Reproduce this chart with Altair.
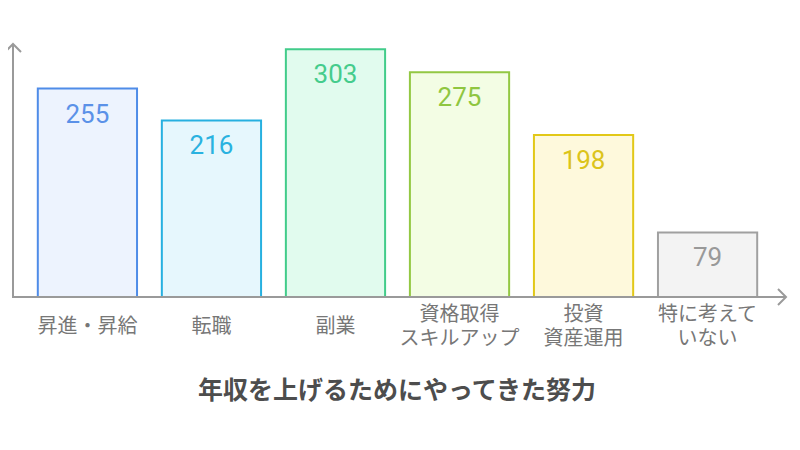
import altair as alt
import pandas as pd

categories = ["昇進・昇給", "転職", "副業", "資格取得\nスキルアップ", "投資\n資産運用", "特に考えて\nいない"]
values = [255, 216, 303, 275, 198, 79]
stroke_colors = ["#4f8ce8", "#27b0e0", "#42cc8a", "#93c843", "#e2c818", "#a0a0a0"]
fill_colors = ["#edf3fe", "#e6f7fd", "#e1fbee", "#f3fde4", "#fef9dc", "#f3f3f3"]
text_colors = ["#5b91e8", "#2ab2e0", "#45cc8c", "#8fc640", "#dcc41a", "#999999"]
title_text = "年収を上げるためにやってきた努力"

df = pd.DataFrame({"cat": categories, "value": values})
one = pd.DataFrame({"k": [0]})

W, H = 769, 260
x_enc = alt.X("cat:N", sort=categories, axis=None,
              scale=alt.Scale(domain=categories, paddingInner=0.2, paddingOuter=0.2))
y_enc = alt.Y("value:Q", axis=None, scale=alt.Scale(domain=[0, 318], nice=False, zero=True))

bars = alt.Chart(df).mark_bar(strokeWidth=2, cornerRadius=0).encode(
    x=x_enc,
    y=y_enc,
    fill=alt.Fill("cat:N", scale=alt.Scale(domain=categories, range=fill_colors), legend=None),
    stroke=alt.Stroke("cat:N", scale=alt.Scale(domain=categories, range=stroke_colors), legend=None),
)

nums = alt.Chart(df).mark_text(font="Roboto", fontSize=26, baseline="alphabetic", dy=34).encode(
    x=x_enc,
    y=y_enc,
    text=alt.Text("value:Q"),
    color=alt.Color("cat:N", scale=alt.Scale(domain=categories, range=text_colors), legend=None),
)

label_style = dict(font="Noto Sans CJK JP", fontSize=20, lineBreak="\n",
                   lineHeight=24, baseline="middle", color="#777777")
labels_one = alt.Chart(df).transform_filter(
    "indexof(datum.cat, '\\n') < 0"
).mark_text(**label_style).encode(x=x_enc, y=alt.value(290), text="cat:N")
labels_two = alt.Chart(df).transform_filter(
    "indexof(datum.cat, '\\n') >= 0"
).mark_text(**label_style).encode(x=x_enc, y=alt.value(278), text="cat:N")

axis_color = "#9a9a9a"
y_axis = alt.Chart(one).mark_rule(color=axis_color, strokeWidth=2).encode(
    x=alt.value(0), y=alt.value(7), y2=alt.value(H + 1))
x_axis = alt.Chart(one).mark_rule(color=axis_color, strokeWidth=2).encode(
    x=alt.value(-1), x2=alt.value(773), y=alt.value(H))
y_arrow = alt.Chart(one).mark_point(shape="M-1,0.5L0,-0.5L1,0.5", size=256, filled=False,
                                    color=axis_color, strokeWidth=2, opacity=1).encode(
    x=alt.value(0), y=alt.value(11))
x_arrow = alt.Chart(one).mark_point(shape="M-0.5,-1L0.5,0L-0.5,1", size=256, filled=False,
                                    color=axis_color, strokeWidth=2, opacity=1).encode(
    x=alt.value(769), y=alt.value(H))

title = alt.Chart(one).mark_text(font="Noto Sans CJK JP", fontSize=25, fontWeight="bold",
                                 color="#4d4d4d", baseline="middle", align="center").encode(
    x=alt.value(384), y=alt.value(354), text=alt.value(title_text))

chart = alt.layer(bars, nums, labels_one, labels_two, y_axis, x_axis, y_arrow, x_arrow, title).properties(
    width=W, height=H,
    autosize=alt.AutoSizeParams(type="none"),
    padding={"left": 5, "top": 29, "right": 10, "bottom": 120},
    background="white",
).configure_view(stroke=None)

chart.save("out.html", embed_options={"renderer": "svg", "actions": False})
